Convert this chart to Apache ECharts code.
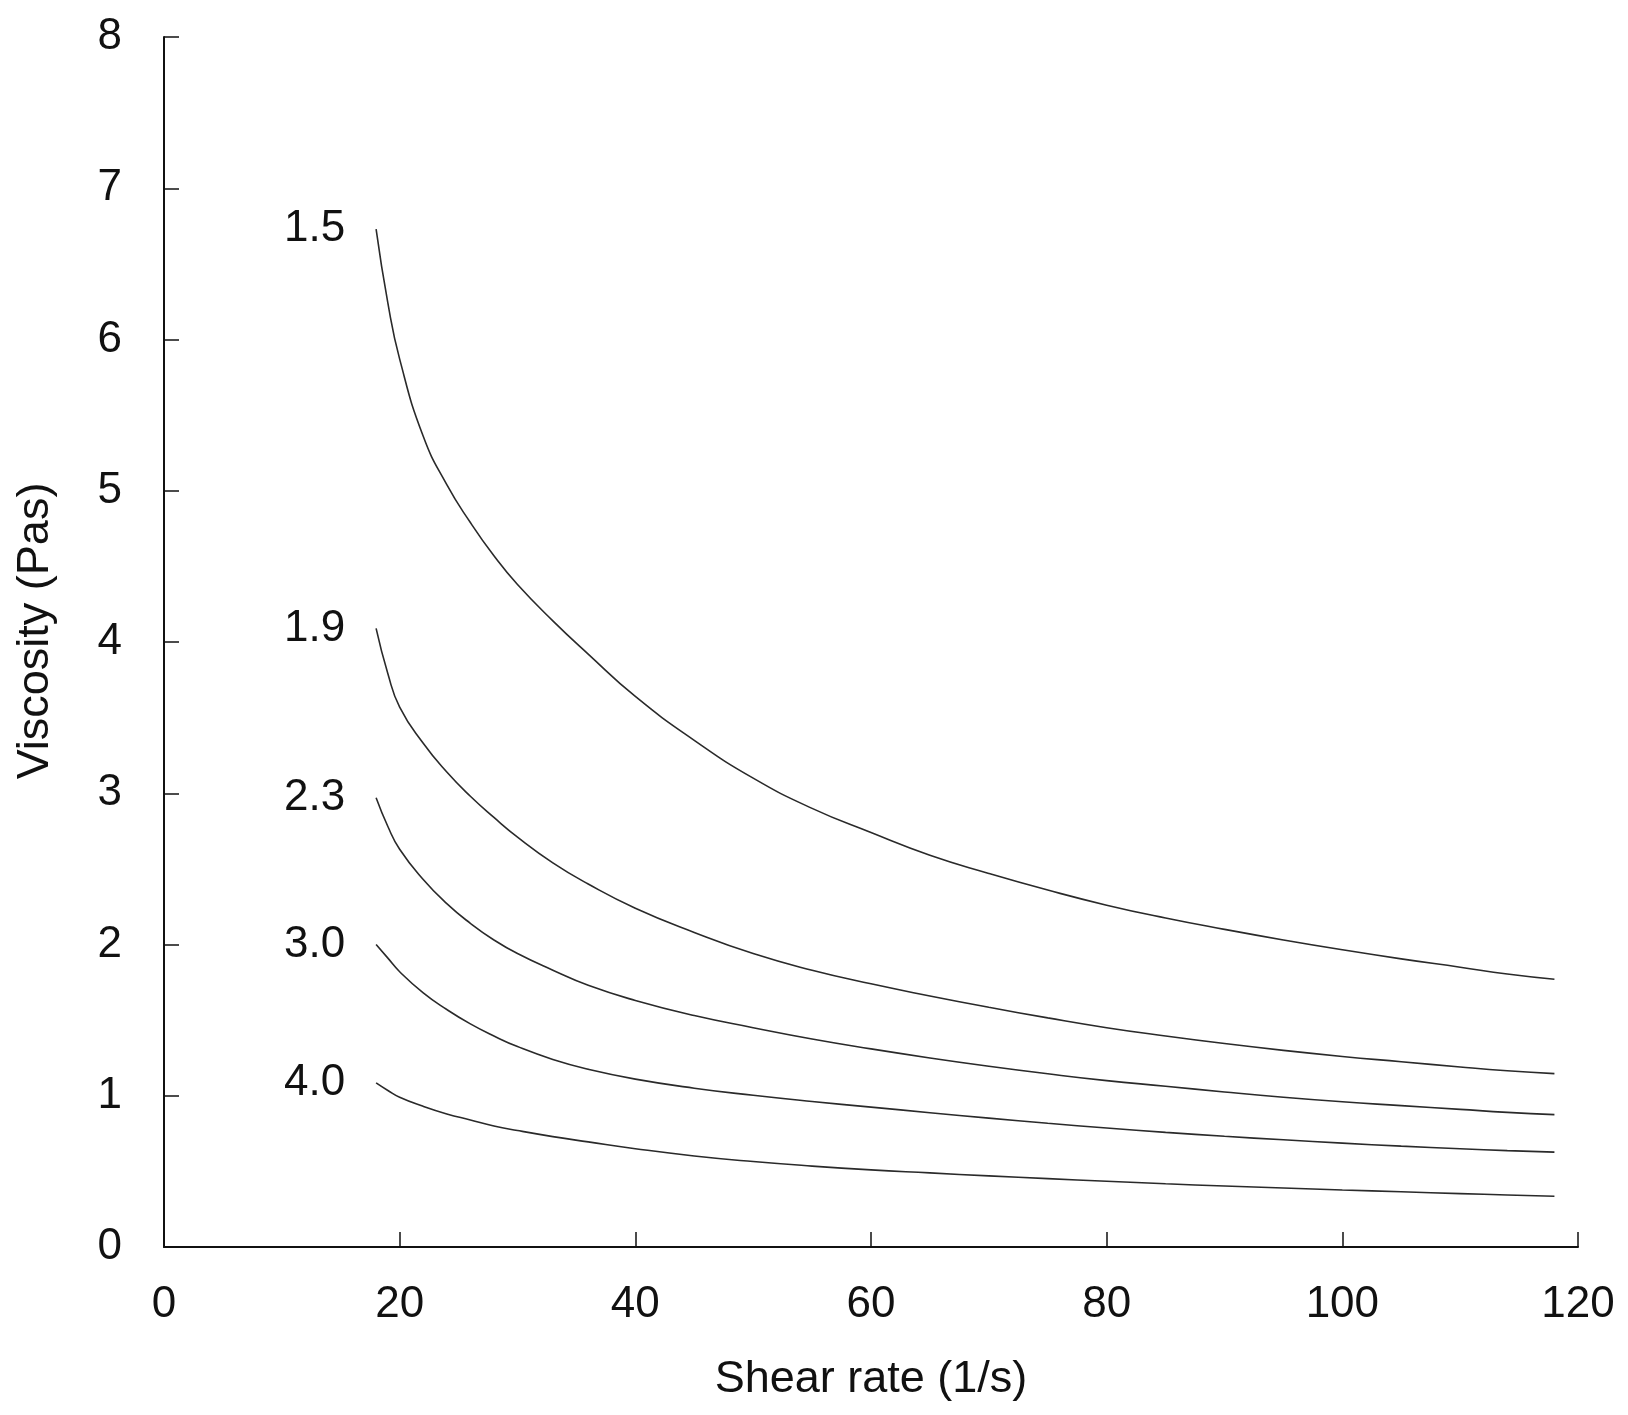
<!DOCTYPE html>
<html>
<head>
<meta charset="utf-8">
<script src="https://cdn.jsdelivr.net/npm/echarts@6/dist/echarts.min.js"></script>
<style>
html,body{margin:0;padding:0;background:#fff;}
#chart{width:1628px;height:1415px;}
</style>
</head>
<body>
<div id="chart"></div>
<script>
// Shear rate values (1/s)
const shearRate = [18, 19, 20, 22, 24, 26, 28, 30, 33, 36, 40, 45, 50, 55, 60, 65, 70, 75, 80, 85, 90, 95, 100, 105, 110, 114, 118];
// Curve labels
const curveNames = ["1.5", "1.9", "2.3", "3.0", "4.0"];
// Viscosity (Pas) for each curve
const visc15 = [6.73, 6.24, 5.87, 5.36, 5.04, 4.79, 4.57, 4.38, 4.14, 3.92, 3.64, 3.35, 3.10, 2.90, 2.74, 2.59, 2.47, 2.36, 2.26, 2.175, 2.10, 2.03, 1.965, 1.905, 1.85, 1.805, 1.77];
const visc19 = [4.09, 3.79, 3.57, 3.33, 3.14, 2.98, 2.84, 2.71, 2.54, 2.40, 2.24, 2.08, 1.94, 1.83, 1.74, 1.66, 1.585, 1.515, 1.45, 1.395, 1.345, 1.30, 1.26, 1.225, 1.19, 1.165, 1.146];
const visc23 = [2.97, 2.78, 2.63, 2.43, 2.27, 2.14, 2.03, 1.94, 1.83, 1.73, 1.63, 1.53, 1.45, 1.375, 1.31, 1.25, 1.195, 1.145, 1.10, 1.063, 1.025, 0.99, 0.96, 0.935, 0.91, 0.89, 0.875];
const visc30 = [2.00, 1.91, 1.82, 1.68, 1.57, 1.475, 1.395, 1.325, 1.24, 1.175, 1.11, 1.05, 1.003, 0.962, 0.925, 0.888, 0.852, 0.818, 0.787, 0.758, 0.732, 0.709, 0.687, 0.667, 0.65, 0.637, 0.627];
const visc40 = [1.085, 1.035, 0.99, 0.93, 0.88, 0.84, 0.80, 0.77, 0.73, 0.695, 0.65, 0.602, 0.565, 0.535, 0.51, 0.49, 0.47, 0.452, 0.435, 0.418, 0.403, 0.39, 0.377, 0.365, 0.353, 0.344, 0.336];
// Axis ticks
const xTicks = [0, 20, 40, 60, 80, 100, 120];
const yTicks = [0, 1, 2, 3, 4, 5, 6, 7, 8];

const allVisc = [visc15, visc19, visc23, visc30, visc40];
const FONT = '"Liberation Sans", Arial, sans-serif';

const series = allVisc.map((vals, i) => ({
  type: 'line',
  name: curveNames[i],
  showSymbol: false,
  smooth: 0.5,
  lineStyle: { color: '#2a2a2a', width: 1.6 },
  itemStyle: { color: '#2a2a2a' },
  silent: true,
  data: vals.map((v, j) => [shearRate[j], v]),
  markPoint: {
    silent: true,
    symbol: 'circle',
    symbolSize: 2,
    itemStyle: { color: 'rgba(0,0,0,0)' },
    label: {
      show: true, position: 'left', distance: 30,
      formatter: curveNames[i], color: '#111', fontSize: 44, fontFamily: FONT
    },
    data: [{ coord: [shearRate[0], vals[0]] }]
  }
}));

const chart = echarts.init(document.getElementById('chart'), null, { renderer: 'canvas' });
chart.setOption({
  backgroundColor: '#fff',
  animation: false,
  grid: { left: 164, right: 50, top: 37, bottom: 168, containLabel: false },
  xAxis: {
    type: 'value', min: xTicks[0], max: xTicks[xTicks.length - 1], interval: 20,
    name: 'Shear rate (1/s)', nameLocation: 'middle', nameGap: 110,
    nameTextStyle: { color: '#111', fontSize: 45, fontFamily: FONT },
    axisLine: { show: true, onZero: false, lineStyle: { color: '#111', width: 2 } },
    axisTick: { show: true, inside: true, length: 15, lineStyle: { color: '#111', width: 1.5 } },
    axisLabel: { color: '#111', fontSize: 44, fontFamily: FONT, margin: 36 },
    splitLine: { show: false }
  },
  yAxis: {
    type: 'value', min: yTicks[0], max: yTicks[yTicks.length - 1], interval: 1,
    name: 'Viscosity (Pas)', nameLocation: 'middle', nameGap: 106,
    nameTextStyle: { color: '#111', fontSize: 45, fontFamily: FONT, padding: [0, 0, 0, 22] },
    axisLine: { show: true, onZero: false, lineStyle: { color: '#111', width: 2 } },
    axisTick: { show: true, inside: true, length: 15, lineStyle: { color: '#111', width: 1.5 } },
    axisLabel: { color: '#111', fontSize: 44, fontFamily: FONT, margin: 42 },
    splitLine: { show: false }
  },
  series: series
});
</script>
</body>
</html>
